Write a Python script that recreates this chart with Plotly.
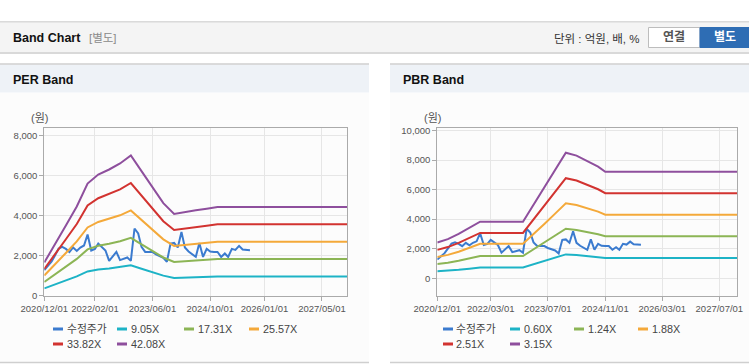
import plotly.graph_objects as go
import pandas as pd

W, H = 749, 364

# ---------------- data ----------------
price_dates = pd.date_range("2020-12-01", periods=58, freq="MS").strftime("%Y-%m-%d").tolist()
price = [1265, 1500, 1700, 2000, 2350, 2430, 2330, 2170, 2400, 2230, 2400, 2500, 3050, 2250,
         2330, 2600, 2430, 2250, 1730, 1950, 2180, 1770, 1850, 1900, 1730, 3350, 3100, 2430,
         2180, 2180, 2180, 2050, 1950, 1880, 1680, 2600, 2630, 2400, 3180, 2400, 2200, 2080,
         1930, 2630, 1930, 2330, 2200, 2180, 2180, 1930, 2100, 1930, 2330, 2280, 2480, 2300,
         2265, 2265]

per_dates = ["2020-12-01", "2021-03-01", "2021-06-01", "2021-09-01", "2021-12-01", "2022-03-01",
             "2022-06-01", "2022-09-01", "2022-12-01", "2023-03-01", "2023-06-01", "2023-09-01",
             "2023-12-01", "2024-03-01", "2024-06-01", "2024-09-01", "2024-12-01", "2027-12-01"]
per_names = ["9.05X", "17.31X", "25.57X", "33.82X", "42.08X"]
per_905 = [355, 559, 753, 957, 1205, 1301, 1355, 1420, 1506, 1338, 1166, 994, 878, 899, 916, 934, 953, 953]
per_1731 = [679, 1070, 1440, 1831, 2304, 2489, 2592, 2715, 2880, 2559, 2230, 1901, 1679, 1720, 1753, 1786, 1823, 1823]
per_2557 = [1003, 1580, 2127, 2704, 3403, 3676, 3828, 4010, 4253, 3779, 3293, 2807, 2479, 2540, 2588, 2637, 2692, 2692]
per_3382 = [1326, 2090, 2813, 3577, 4501, 4862, 5063, 5304, 5626, 4999, 4356, 3713, 3279, 3359, 3424, 3488, 3560, 3560]
per_4208 = [1650, 2600, 3500, 4450, 5600, 6050, 6300, 6600, 7000, 6220, 5420, 4620, 4080, 4180, 4260, 4340, 4430, 4430]

pbr_dates = ["2020-12-01", "2021-03-01", "2021-06-01", "2021-09-01", "2021-12-01", "2022-12-01",
             "2023-03-01", "2023-06-01", "2023-09-01", "2023-12-01", "2024-03-01", "2024-06-01",
             "2024-09-01", "2024-11-01", "2027-12-01"]
pbr_names = ["0.60X", "1.24X", "1.88X", "2.51X", "3.15X"]
pbr_060 = [480, 504, 570, 650, 728, 728, 948, 1170, 1393, 1615, 1577, 1511, 1436, 1370, 1370]
pbr_124 = [965, 1044, 1182, 1347, 1509, 1509, 1966, 2427, 2888, 3349, 3270, 3132, 2979, 2841, 2841]
pbr_188 = [1440, 1582, 1791, 2042, 2330, 2330, 2979, 3678, 4376, 5075, 4955, 4746, 4513, 4304, 4304]
pbr_251 = [1920, 2112, 2391, 2726, 3070, 3070, 3977, 4910, 5842, 6775, 6615, 6336, 6025, 5760, 5760]
pbr_315 = [2420, 2650, 3000, 3420, 3830, 3830, 4990, 6160, 7330, 8500, 8300, 7950, 7560, 7210, 7210]

per_tickvals = ["2020-12-01", "2022-02-01", "2023-06-01", "2024-10-01", "2026-01-01", "2027-05-01"]
per_ticktext = ["2020/12/01", "2022/02/01", "2023/06/01", "2024/10/01", "2026/01/01", "2027/05/01"]
pbr_tickvals = ["2020-12-01", "2022-03-01", "2023-07-01", "2024-11-01", "2026-03-01", "2027-07-01"]
pbr_ticktext = ["2020/12/01", "2022/03/01", "2023/07/01", "2024/11/01", "2026/03/01", "2027/07/01"]
per_yticks = [0, 2000, 4000, 6000, 8000]
pbr_yticks = [0, 2000, 4000, 6000, 8000, 10000]

price_name = "수정주가"

# ---------------- style ----------------
C_PRICE = "#3b7bcf"
BAND_COLORS = ["#1db3c6", "#8cb555", "#f4a93a", "#d23330", "#8e4f9d"]
FONT = "Liberation Sans, Noto Sans CJK KR, sans-serif"
TICKFONT = dict(family=FONT, size=9.5, color="#555555")


def px(x):
    return x / W


def py(y):
    return 1 - y / H


fig = go.Figure()

# PER
fig.add_trace(go.Scatter(x=price_dates, y=price, mode="lines", xaxis="x", yaxis="y",
                         line=dict(color=C_PRICE, width=2), showlegend=False, hoverinfo="skip"))
for vals, col in zip([per_905, per_1731, per_2557, per_3382, per_4208], BAND_COLORS):
    fig.add_trace(go.Scatter(x=per_dates, y=vals, mode="lines", xaxis="x", yaxis="y",
                             line=dict(color=col, width=2), showlegend=False, hoverinfo="skip"))
# PBR
fig.add_trace(go.Scatter(x=price_dates, y=price, mode="lines", xaxis="x2", yaxis="y2",
                         line=dict(color=C_PRICE, width=2), showlegend=False, hoverinfo="skip"))
for vals, col in zip([pbr_060, pbr_124, pbr_188, pbr_251, pbr_315], BAND_COLORS):
    fig.add_trace(go.Scatter(x=pbr_dates, y=vals, mode="lines", xaxis="x2", yaxis="y2",
                             line=dict(color=col, width=2), showlegend=False, hoverinfo="skip"))

axis_common = dict(showgrid=True, gridcolor="#e6e6e6", gridwidth=1, showline=True, linecolor="#aaaaaa",
                   linewidth=1, mirror=True, ticks="outside", ticklen=4, tickcolor="#aaaaaa",
                   tickfont=TICKFONT, zeroline=False, fixedrange=True, automargin=False)

shapes = []
annotations = []


def rect(x0, y0, x1, y1, fill, line=None, lw=0):
    shapes.append(dict(type="rect", xref="paper", yref="paper", x0=px(x0), x1=px(x1), y0=py(y1), y1=py(y0),
                       fillcolor=fill, line=dict(color=line or fill, width=lw), layer="below"))


def hline(x0, x1, y, color, lw=1):
    shapes.append(dict(type="line", xref="paper", yref="paper", x0=px(x0), x1=px(x1), y0=py(y), y1=py(y),
                       line=dict(color=color, width=lw), layer="below"))


def text(x, y, s, size=12, color="#333333", anchor="left", bold=False):
    annotations.append(dict(xref="paper", yref="paper", x=px(x), y=py(y), text=("<b>%s</b>" % s) if bold else s,
                            showarrow=False, xanchor=anchor, yanchor="middle",
                            font=dict(family=FONT, size=size, color=color)))


# header
hline(0, 749, 22, "#b4b4b4", 1)
rect(0, 22.5, 749, 52, "#f4f4f4")
hline(0, 749, 53, "#d9d9d9", 2)
text(11, 38, "Band Chart", 12.5, "#111111", bold=True)
text(87, 38.5, "[별도]", 11.5, "#8a8a8a")
text(642, 38.5, "단위 : 억원, 배, %", 11.5, "#333333", anchor="right")
rect(648.5, 27.5, 700, 47.5, "#ffffff", "#bdbdbd", 1)
text(674, 37.5, "연결", 12, "#555555", anchor="center", bold=True)
rect(700, 27.5, 749, 47.5, "#2e6db4", "#2e6db4", 1)
text(724.5, 37.5, "별도", 12, "#ffffff", anchor="center", bold=True)

# panels
for (x0, x1, title) in [(0, 369, "PER Band"), (390, 749, "PBR Band")]:
    rect(x0, 93, x1, 362, "#fcfcfc")
    rect(x0, 64.5, x1, 92.5, "#eef2f7")
    hline(x0, x1, 64, "#cfcfcf", 1.5)
    hline(x0, x1, 362.5, "#cfcfcf", 1.5)
    text(x0 + 11, 80, title, 12.5, "#111111", bold=True)

text(39, 118.5, "(원)", 11, "#555555", anchor="center")
text(432.5, 118.5, "(원)", 11, "#555555", anchor="center")


# legends
def legend_item(x, y, color, label):
    shapes.append(dict(type="line", xref="paper", yref="paper", x0=px(x), x1=px(x + 10), y0=py(y), y1=py(y),
                       line=dict(color=color, width=3)))
    text(x + 11.5, y, label, 10.8, "#444444")


per_leg_x = [53, 117, 184, 249, 53, 117]
per_leg_y = [329, 329, 329, 329, 344, 344]
pbr_leg_x = [443, 510, 574, 638, 443, 510]
leg_colors = [C_PRICE] + BAND_COLORS
for i, (lab, col) in enumerate(zip([price_name] + per_names, leg_colors)):
    legend_item(per_leg_x[i], per_leg_y[i], col, lab)
for i, (lab, col) in enumerate(zip([price_name] + pbr_names, leg_colors)):
    legend_item(pbr_leg_x[i], per_leg_y[i], col, lab)

fig.update_layout(
    template="none",
    width=W, height=H, autosize=False,
    margin=dict(l=0, r=0, t=0, b=0, pad=0),
    paper_bgcolor="#ffffff", plot_bgcolor="#ffffff",
    showlegend=False,
    xaxis=dict(domain=[px(44.3), px(347.3)], range=["2020-12-01", "2027-12-01"], type="date",
               tickvals=per_tickvals, ticktext=per_ticktext, anchor="y", **axis_common),
    yaxis=dict(domain=[py(295.5), py(128)], range=[0, 8375], tickvals=per_yticks,
               tickformat=",", anchor="x", **axis_common),
    xaxis2=dict(domain=[px(437.3), px(737.3)], range=["2020-12-01", "2027-12-01"], type="date",
                tickvals=pbr_tickvals, ticktext=pbr_ticktext, anchor="y2", **axis_common),
    yaxis2=dict(domain=[py(295.7), py(128.3)], range=[-1180, 10150], tickvals=pbr_yticks,
                tickformat=",", anchor="x2", **axis_common),
    shapes=shapes,
    annotations=annotations,
)

fig.write_html("out.html", config={"displayModeBar": False, "staticPlot": True},
               post_script="document.body.style.margin='0';document.body.style.overflow='hidden';")
